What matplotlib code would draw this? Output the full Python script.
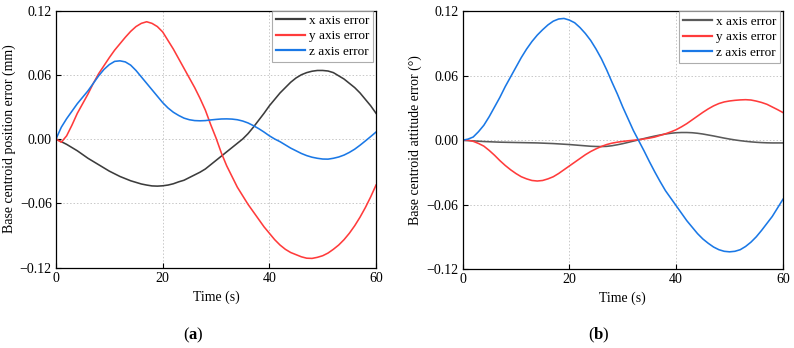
import numpy as np
import matplotlib
matplotlib.use("Agg")
import matplotlib.pyplot as plt
import matplotlib.ticker as ticker

plt.rcParams["font.family"] = ["Liberation Serif", "DejaVu Serif"]
plt.rcParams["mathtext.fontset"] = "custom"
plt.rcParams["mathtext.rm"] = "Liberation Serif"
plt.rcParams["mathtext.bf"] = "Liberation Serif:bold"
plt.rcParams["axes.unicode_minus"] = True

# time samples (s), one per second
t = list(range(61))

# (a) base centroid position error (mm)
pos_x = [0, -0.0025, -0.005, -0.008, -0.011, -0.0145, -0.018, -0.021, -0.024, -0.027,
         -0.030, -0.0325, -0.035, -0.037, -0.039, -0.0405, -0.042, -0.043, -0.0438, -0.044,
         -0.0437, -0.043, -0.0418, -0.040, -0.0385, -0.036, -0.0335, -0.031, -0.028, -0.024,
         -0.020, -0.016, -0.012, -0.008, -0.004, 0.0, 0.005, 0.011, 0.0175, 0.024,
         0.031, 0.037, 0.043, 0.048, 0.053, 0.057, 0.060, 0.062, 0.0633, 0.064,
         0.064, 0.0635, 0.062, 0.059, 0.056, 0.052, 0.048, 0.043, 0.037, 0.031,
         0.024]
pos_y = [0, -0.003, 0.003, 0.013, 0.024, 0.033, 0.042, 0.052, 0.061, 0.0685,
         0.076, 0.083, 0.089, 0.095, 0.1005, 0.105, 0.108, 0.1095, 0.108, 0.105,
         0.100, 0.092, 0.084, 0.075, 0.066, 0.057, 0.048, 0.038, 0.027, 0.0135,
         0.001, -0.013, -0.025, -0.035, -0.045, -0.053, -0.061, -0.068, -0.075, -0.082,
         -0.088, -0.094, -0.099, -0.103, -0.106, -0.108, -0.110, -0.1113, -0.1115, -0.1105,
         -0.109, -0.1065, -0.103, -0.099, -0.094, -0.088, -0.081, -0.073, -0.064, -0.054,
         -0.043]
pos_z = [0, 0.011, 0.019, 0.026, 0.033, 0.039, 0.045, 0.052, 0.059, 0.065,
         0.0695, 0.0725, 0.073, 0.072, 0.069, 0.064, 0.058, 0.052, 0.046, 0.040,
         0.034, 0.029, 0.025, 0.022, 0.0195, 0.018, 0.0172, 0.017, 0.0172, 0.0178,
         0.0183, 0.0187, 0.0188, 0.0186, 0.018, 0.0168, 0.015, 0.0125, 0.0097, 0.0065,
         0.003, 0.0, -0.0025, -0.0055, -0.0085, -0.011, -0.0135, -0.0155, -0.017, -0.018,
         -0.0187, -0.0188, -0.018, -0.0168, -0.015, -0.0125, -0.0095, -0.0058, -0.0018, 0.0023,
         0.0065]

# (b) base centroid attitude error (deg)
att_x = [0, -0.0003, -0.0006, -0.0009, -0.0012, -0.0014, -0.0016, -0.0018, -0.0019, -0.002,
         -0.0021, -0.0022, -0.0023, -0.0024, -0.0025, -0.0027, -0.0029, -0.0031, -0.0034, -0.0037,
         -0.004, -0.0044, -0.0048, -0.0052, -0.0056, -0.0058, -0.0059, -0.0057, -0.0051, -0.0042,
         -0.0032, -0.002, -0.0008, 0.0004, 0.0016, 0.0028, 0.0039, 0.0049, 0.0058, 0.0065,
         0.007, 0.0072, 0.0072, 0.007, 0.0065, 0.0058, 0.0049, 0.004, 0.003, 0.002,
         0.0011, 0.0003, -0.0004, -0.001, -0.0015, -0.0019, -0.0022, -0.0024, -0.0025, -0.0025,
         -0.0025]
att_y = [0, 0, -0.001, -0.003, -0.0055, -0.0095, -0.014, -0.019, -0.0235, -0.0275,
         -0.031, -0.034, -0.036, -0.0375, -0.038, -0.0375, -0.036, -0.034, -0.031, -0.0275,
         -0.024, -0.0205, -0.017, -0.0135, -0.0105, -0.008, -0.0058, -0.004, -0.0027, -0.0018,
         -0.0011, -0.0005, 0.0, 0.0005, 0.0012, 0.002, 0.003, 0.0045, 0.006, 0.0078,
         0.0098, 0.0125, 0.0155, 0.019, 0.0225, 0.026, 0.0292, 0.032, 0.0342, 0.0357,
         0.0366, 0.0372, 0.0376, 0.0378, 0.0375, 0.0365, 0.0352, 0.0335, 0.031, 0.0285,
         0.0258]
att_z = [0, 0.001, 0.003, 0.008, 0.014, 0.022, 0.031, 0.040, 0.050, 0.059,
         0.068, 0.077, 0.085, 0.092, 0.098, 0.103, 0.1075, 0.111, 0.113, 0.1135,
         0.112, 0.1095, 0.105, 0.0995, 0.093, 0.085, 0.076, 0.0655, 0.054, 0.043,
         0.031, 0.020, 0.009, -0.0005, -0.010, -0.020, -0.0295, -0.0385, -0.047, -0.054,
         -0.061, -0.068, -0.075, -0.081, -0.087, -0.092, -0.096, -0.0995, -0.102, -0.1035,
         -0.104, -0.1035, -0.102, -0.099, -0.095, -0.090, -0.084, -0.0775, -0.071, -0.063,
         -0.055]

labels = ["x axis error", "y axis error", "z axis error"]
colors_a = ["#3c3c3c", "#ff3b3b", "#1a78e6"]
colors_b = ["#5a5a5a", "#ff3b3b", "#1a78e6"]

panels = [
    ([0.0705, 0.2313, 0.4031, 0.7385], [pos_x, pos_y, pos_z], colors_a,
     "Base centroid position error (mm)", r"($\mathbf{a}$)", 0.243),
    ([0.5825, 0.2270, 0.4036, 0.7400], [att_x, att_y, att_z], colors_b,
     "Base centroid attitude error (°)", r"($\mathbf{b}$)", 0.754),
]

fig = plt.figure(figsize=(7.94, 3.48), dpi=100)

for rect, series, colors, ylabel, tag, tag_x in panels:
    ax = fig.add_axes(rect)
    for vals, lab, c in zip(series, labels, colors):
        ax.plot(t, vals, color=c, lw=1.15, label=lab)
    ax.set_xlim(0, 60)
    ax.set_ylim(-0.12, 0.12)
    ax.xaxis.set_major_locator(ticker.MultipleLocator(20))
    ax.yaxis.set_major_locator(ticker.MultipleLocator(0.06))
    ax.yaxis.set_major_formatter(ticker.FuncFormatter(
        lambda v, _: f"{v:.2f}".replace("-", "\u2212") if abs(v) > 1e-9 else "0.00"))
    ax.tick_params(direction="in", length=3.5, width=0.8, labelsize=10, pad=3)
    ax.grid(True, color="#c8c8c8", linestyle=(0, (1.5, 2)), linewidth=0.7)
    for sp in ax.spines.values():
        sp.set_linewidth(0.9)
    ax.set_xlabel("Time (s)", fontsize=10, labelpad=4)
    ax.set_ylabel(ylabel, fontsize=10, labelpad=3)
    leg = ax.legend(loc="upper right", bbox_to_anchor=(0.992, 1.0), fontsize=9.5,
                    frameon=True, fancybox=False, borderaxespad=0, handlelength=2.2,
                    handletextpad=0.3, borderpad=0.3, labelspacing=0.25)
    leg.get_frame().set_edgecolor("#999999")
    leg.get_frame().set_linewidth(0.8)
    for line in leg.get_lines():
        line.set_linewidth(1.6)
    fig.text(tag_x, 0.037, tag, fontsize=12, ha="center", va="center")

fig.savefig("out.png", dpi=100)
